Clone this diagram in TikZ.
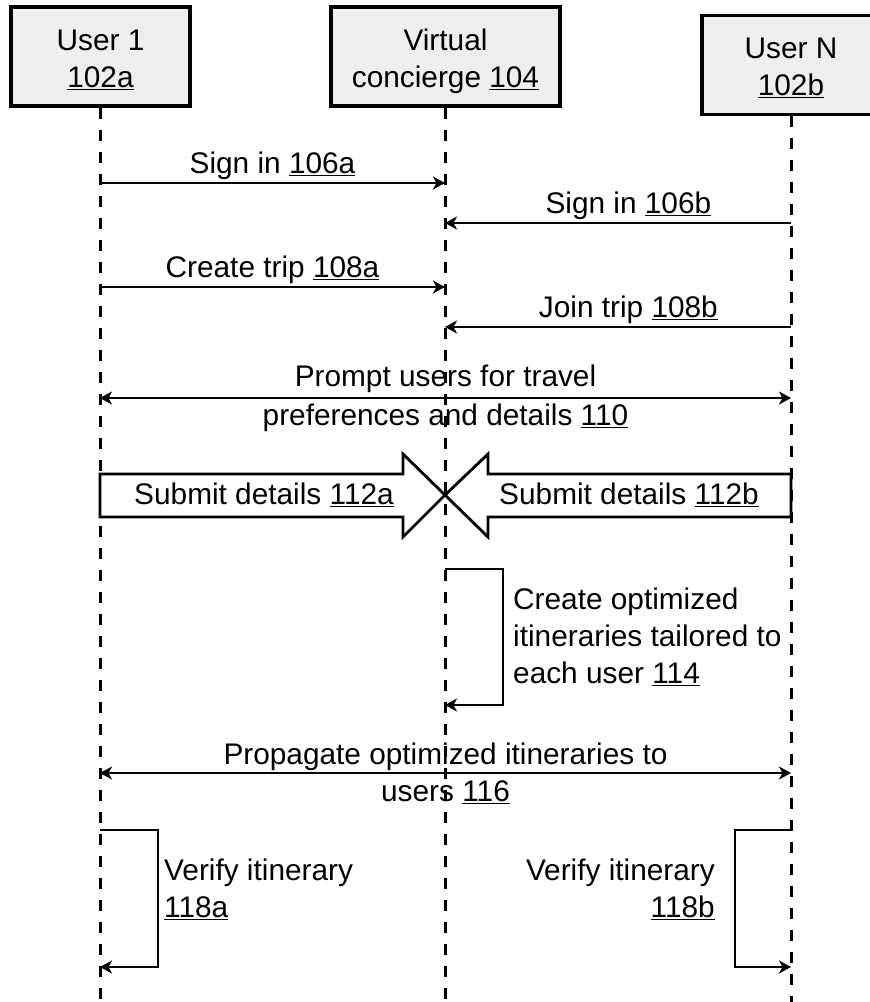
\documentclass[tikz,border=0pt]{standalone}
\usepackage{fontspec}
\setmainfont{Liberation Sans}
\usetikzlibrary{arrows.meta,positioning}

\newcommand{\refnum}[1]{\underline{#1}}
\newcommand{\boxlabel}[2]{\raisebox{-5pt}[\height][\depth]{\begin{tabular}{@{}c@{}}#1\\#2\end{tabular}}}

\begin{document}
\begin{tikzpicture}[x=1pt, y=-1pt, >={Stealth[length=12pt, width=13pt, inset=3.5pt]},
  every node/.style={font=\fontsize{29.8}{37}\selectfont},
  actor/.style={draw, line width=3.5pt, fill=gray!13, inner sep=0pt, minimum height=99pt},
  life/.style={line width=3pt, dash pattern=on 11pt off 11pt},
  msg/.style={line width=2.8pt, ->},
  block/.style={line width=2.8pt, fill=white, line join=miter},
  note/.style={inner sep=2pt}]
  \useasboundingbox (0,0) rectangle (870,1002);

  % participants
  \node[actor, minimum width=179pt] (u1) at (100.5,56.5) {\boxlabel{User 1}{\refnum{102a}}};
  \node[actor, minimum width=229pt] (vc) at (445.5,56.5) {\boxlabel{Virtual}{concierge \refnum{104}}};
  \node[actor, minimum width=178pt] (un) at (791,65) {\boxlabel{User N}{\refnum{102b}}};

  % one row of points on each lifeline per step
  \foreach \r/\y in {si1/183, si2/223, ct/287, jt/327, pr/398, sd/495, co1/569, co2/705, pg/773, vf1/830, vf2/967, end/1002}
    \foreach \c/\x in {u1/100, vc/445, un/791}
      \coordinate (\c-\r) at (\x,\y);

  % lifelines
  \draw[life] (u1.south -| u1-end) -- (u1-end);
  \draw[life] (vc.south -| vc-end) -- (vc-end);
  \draw[life] (un.south -| un-end) -- (un-end);

  \draw[msg] (u1-si1) -- node[above, note]{Sign in \refnum{106a}} (vc-si1);
  \draw[msg] (un-si2) -- node[above, note, pos=.47]{Sign in \refnum{106b}} (vc-si2);
  \draw[msg] (u1-ct) -- node[above, note]{Create trip \refnum{108a}} (vc-ct);
  \draw[msg] (un-jt) -- node[above, note, pos=.47]{Join trip \refnum{108b}} (vc-jt);
  \draw[msg, <->] (u1-pr) -- node[align=center, font=\fontsize{29.8}{39}\selectfont]
    {Prompt users for travel\\preferences and details \refnum{110}} (un-pr);

  % the two submissions meet at the concierge
  \draw[block] (vc-sd) -- ++(-42,-41) -- ++(0,20) -- ++(-303,0) -- ++(0,43)
    -- ++(303,0) -- ++(0,20) -- cycle;
  \draw[block] (vc-sd) -- ++(43,-41) -- ++(0,20) -- ++(303,0) -- ++(0,43)
    -- ++(-303,0) -- ++(0,20) -- cycle;
  \node (sda) at (264,495) {Submit details \refnum{112a}};
  \node (sdb) at (629,495) {Submit details \refnum{112b}};

  \draw[msg] (vc-co1) -- ++(58,0) |- (vc-co2);
  \node[anchor=west, align=left, note] (co) at (511,637)
    {Create optimized\\itineraries tailored to\\each user \refnum{114}};

  \draw[msg, <->] (u1-pg) -- node[align=center]
    {Propagate optimized itineraries to\\users \refnum{116}} (un-pg);

  \draw[msg] (u1-vf1) -- ++(58,0) |- (u1-vf2);
  \draw[msg] (un-vf1) -- ++(-56,0) |- (un-vf2);
  \node[anchor=west, align=left, note] (vfa) at (162,889) {Verify itinerary\\\refnum{118a}};
  \node[anchor=east, align=right, note] (vfb) at (717,889) {Verify itinerary\\\refnum{118b}};
\end{tikzpicture}
\end{document}
